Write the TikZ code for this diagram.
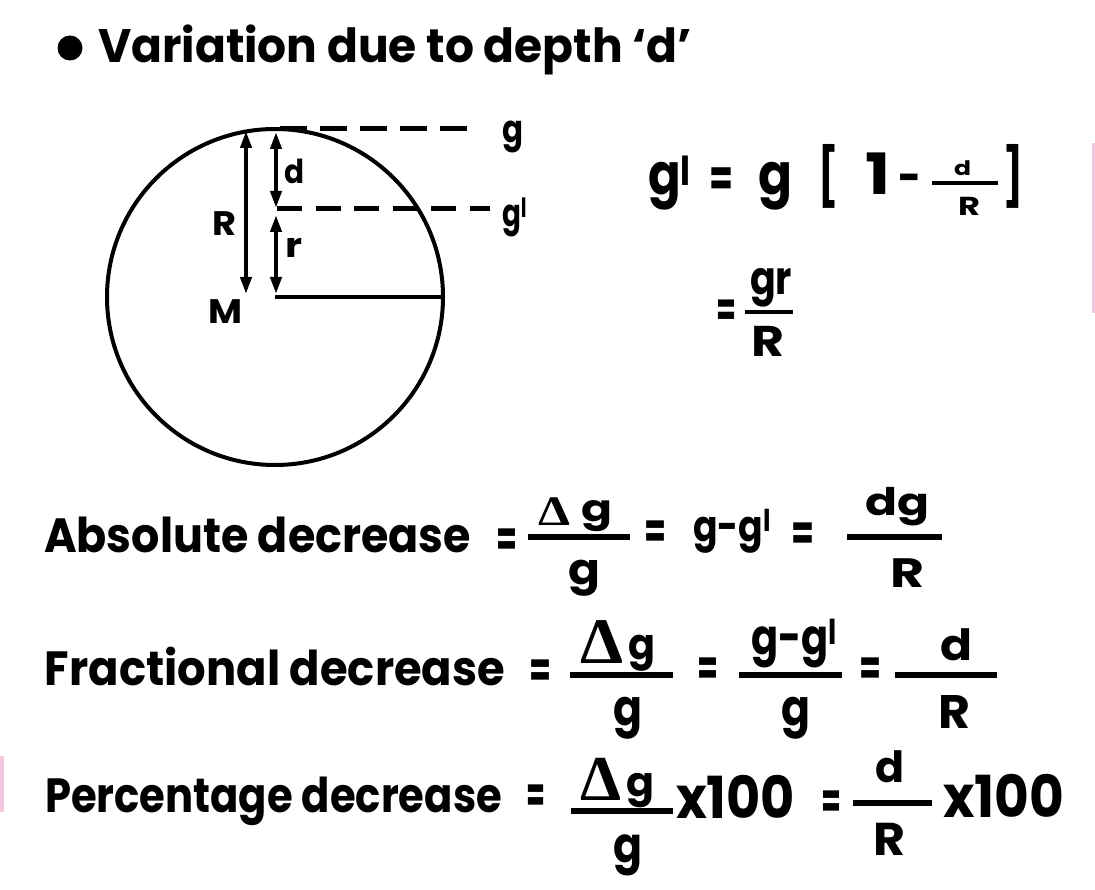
\documentclass[tikz,border=0pt]{standalone}
\usepackage{fontspec}
\setmainfont{Poppins}
\newfontfamily\grk{Liberation Serif}
\usepackage{graphicx}
\usetikzlibrary{arrows.meta}
\newcommand\fw[3]{{\fontsize{#1pt}{#1pt}\selectfont\bfseries\resizebox{#2pt}{\height}{#3}}}
\newcommand\fwd[3]{{\grk\bfseries\fontsize{#1pt}{#1pt}\selectfont\resizebox{#2pt}{\height}{#3}}}
\newcommand\pr{\textsuperscript{l}}
\definecolor{pinkedge}{RGB}{243,198,224}
\tikzset{
  txt/.style={inner sep=0pt, outer sep=0pt, anchor=base west},
  fbar/.style={line width=5.5pt},
  dashline/.style={line width=5pt, dash pattern=on 27pt off 13pt},
  dashlinep/.style={line width=5pt, dash pattern=on 25pt off 13.5pt},
  dimarrow/.style={line width=4pt, {Triangle[length=17pt,width=11pt]}-{Triangle[length=17pt,width=11pt]}},
  solid4/.style={line width=4pt},
}
\begin{document}
\begin{tikzpicture}[x=1pt,y=-1pt]
\fill[white] (0,0) rectangle (1095,890);
\useasboundingbox (0,0) rectangle (1095,890);
% pink edge marks
\coordinate (pk1a) at (1093,143); \coordinate (pk1b) at (1093,313);
\coordinate (pk2a) at (2,756); \coordinate (pk2b) at (2,812);
\draw[pinkedge, line width=3pt] (pk1a) -- (pk1b);
\draw[pinkedge, line width=4pt] (pk2a) -- (pk2b);
% title
\node[circle, fill=black, inner sep=0pt, minimum size=25pt] (bullet) at (70,48) {};
\node[txt] (title) at (98,63) {\fw{47}{594}{Variation due to depth ‘d’}};
% diagram
\coordinate (M0) at (275,297);
\coordinate (rim) at (443,297);
\draw[solid4] (M0) circle[radius=168pt];
\draw[solid4] (M0) -- (rim);
\coordinate (gA) at (280,129); \coordinate (gB) at (468,129);
\coordinate (gpA) at (277,209); \coordinate (gpB) at (490,209);
\draw[dashline] (gA) -- (gB);
\draw[dashlinep] (gpA) -- (gpB);
\coordinate (Rtop) at (246,131); \coordinate (Rbot) at (246,294);
\coordinate (dtop) at (276,132); \coordinate (dbot) at (276,208);
\coordinate (rtop) at (276,215); \coordinate (rbot) at (276,294);
\draw[dimarrow] (Rtop) -- (Rbot);
\draw[dimarrow] (dtop) -- (dbot);
\draw[dimarrow] (rtop) -- (rbot);
\node[txt] (lR) at (212,236) {\fw{34}{24}{R}};
\node[txt] (ld) at (284,184) {\fw{33}{20}{d}};
\node[txt] (lr) at (285,258) {\fw{34}{17}{r}};
\node[txt] (lM) at (208,324) {\fw{34}{34}{M}};
\node[txt] (lg) at (502,143) {\fw{38}{21}{g}};
\node[txt] (lgp) at (502,227) {\fw{38}{25}{g\pr}};
% top right formula
\node[txt] (tg1) at (648,195) {\fw{57}{43}{g\pr}};
\node[txt] (teq1) at (709,197) {\fw{52}{24}{=}};
\node[txt] (tg2) at (758,195) {\fw{57}{34}{g}};
\node[txt] (tlb) at (818,197) {\fw{57}{20}{[}};
\node[txt] (tone) at (865,195) {\fw{57}{25}{1}};
\node[txt] (tmin) at (898,194) {\fw{46}{23}{-}};
\coordinate (tbA) at (932,183); \coordinate (tbB) at (998,183);
\draw[line width=4pt] (tbA) -- (tbB);
\node[txt] (td) at (954,176) {\fw{20}{17}{d}};
\node[txt] (tR) at (958,216) {\fw{26}{22}{R}};
\node[txt] (trb) at (1003,197) {\fw{57}{20}{]}};
% = gr/R
\node[txt] (teq2) at (716,327) {\fw{48}{20}{=}};
\coordinate (gbA) at (745,312); \coordinate (gbB) at (793,312);
\draw[line width=3.5pt] (gbA) -- (gbB);
\node[txt] (tgr) at (750,295) {\fw{46}{42}{gr}};
\node[txt] (tgrR) at (751,357) {\fw{43}{33}{R}};
% Absolute decrease
\node[txt] (labA) at (44,552) {\fw{48}{427}{Absolute decrease}};
\node[txt] (aeq1) at (496,556) {\fw{50}{21}{=}};
\coordinate (ab1A) at (528,537); \coordinate (ab1B) at (630,537);
\draw[fbar] (ab1A) -- (ab1B);
\node[txt] (aDel) at (538,525) {\fwd{42}{32}{Δ}};
\node[txt] (ag1) at (581,521) {\fw{37}{31}{g}};
\node[txt] (ag2) at (568,584) {\fw{43}{32}{g}};
\node[txt] (aeq2) at (644,548) {\fw{50}{22}{=}};
\node[txt] (agg) at (693,541) {\fw{43}{78}{g-g\pr}};
\node[txt] (aeq3) at (791,550) {\fw{50}{23}{=}};
\coordinate (ab2A) at (847,537); \coordinate (ab2B) at (942,537);
\draw[fbar] (ab2A) -- (ab2B);
\node[txt] (adg) at (865,515) {\fw{38}{64}{dg}};
\node[txt] (aR) at (890,587) {\fw{41}{34}{R}};
% Fractional decrease
\node[txt] (labF) at (45,685) {\fw{48}{460}{Fractional decrease}};
\node[txt] (feq1) at (529,687) {\fw{50}{22}{=}};
\coordinate (fb1A) at (570,675); \coordinate (fb1B) at (673,675);
\draw[fbar] (fb1A) -- (fb1B);
\node[txt] (fDel) at (580,663) {\fwd{65}{43}{Δ}};
\node[txt] (fg1) at (628,659) {\fw{43}{27}{g}};
\node[txt] (fg2) at (613,725) {\fw{50}{29}{g}};
\node[txt] (feq2) at (697,685) {\fw{50}{21}{=}};
\coordinate (fb2A) at (739,675); \coordinate (fb2B) at (842,675);
\draw[fbar] (fb2A) -- (fb2B);
\node[txt] (fgg) at (751,654) {\fw{49}{86}{g-g\pr}};
\node[txt] (fg3) at (781,725) {\fw{50}{29}{g}};
\node[txt] (feq3) at (859,685) {\fw{50}{22}{=}};
\coordinate (fb3A) at (895,675); \coordinate (fb3B) at (997,675);
\draw[fbar] (fb3A) -- (fb3B);
\node[txt] (fd) at (940,660) {\fw{43}{32}{d}};
\node[txt] (fR) at (938,728) {\fw{47}{32}{R}};
% Percentage decrease
\node[txt] (labP) at (45,812) {\fw{48}{457}{Percentage decrease}};
\node[txt] (peq1) at (526,812) {\fw{50}{19}{=}};
\coordinate (pb1A) at (571,811); \coordinate (pb1B) at (673,811);
\draw[fbar] (pb1A) -- (pb1B);
\node[txt] (pDel) at (580,800) {\fwd{64}{41}{Δ}};
\node[txt] (pg1) at (626,796) {\fw{41}{28}{g}};
\node[txt] (pg2) at (613,862) {\fw{49}{29}{g}};
\node[txt] (px1) at (676,818) {\fw{58}{119}{x100}};
\node[txt] (peq2) at (821,818) {\fw{50}{20}{=}};
\coordinate (pb2A) at (853,803); \coordinate (pb2B) at (932,803);
\draw[fbar] (pb2A) -- (pb2B);
\node[txt] (pd) at (875,782) {\fw{43}{29}{d}};
\node[txt] (pR) at (873,855) {\fw{46}{32}{R}};
\node[txt] (px2) at (943,817) {\fw{58}{121}{x100}};
\end{tikzpicture}
\end{document}
